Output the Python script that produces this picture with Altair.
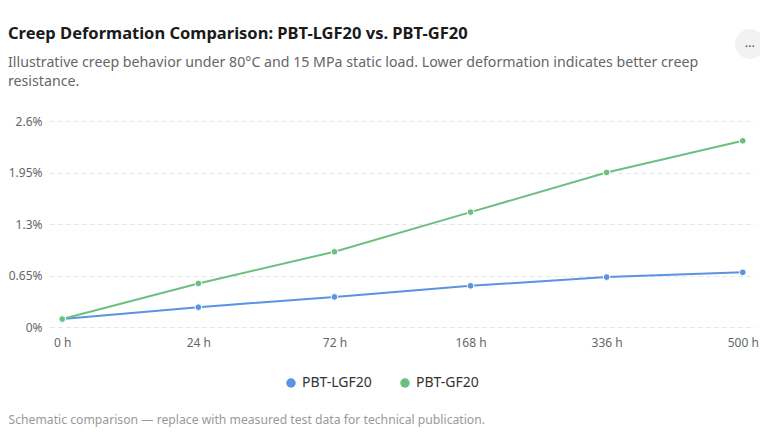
import altair as alt
import pandas as pd

# Data
hours = ["0 h", "24 h", "72 h", "168 h", "336 h", "500 h"]
lgf20 = [0.10, 0.25, 0.38, 0.52, 0.63, 0.69]
gf20 = [0.10, 0.55, 0.95, 1.45, 1.95, 2.35]
series = ["PBT-LGF20", "PBT-GF20"]
colours = ["#5b93e0", "#6dbf80"]
y_ticks = [0, 0.65, 1.3, 1.95, 2.6]

rows = []
for h, a, b in zip(hours, lgf20, gf20):
    rows.append({"time": h, "material": series[0], "deformation": a})
    rows.append({"time": h, "material": series[1], "deformation": b})
df = pd.DataFrame(rows)

font = "Noto Sans"

base = alt.Chart(df).encode(
    x=alt.X("time:O", sort=hours,
            scale=alt.Scale(type="point", padding=0.09),
            axis=alt.Axis(labelAngle=0, domain=False, ticks=False, grid=False,
                          labelColor="#666666", labelFontSize=12, labelPadding=10,
                          title="Schematic comparison \u2014 replace with measured test data for technical publication.",
                          titleX=-42, titleY=92, titleAlign="left", titleBaseline="middle",
                          titleFontSize=12.2, titleFontWeight="normal", titleColor="#999999")),
    y=alt.Y("deformation:Q",
            scale=alt.Scale(domain=[0, 2.6], nice=False),
            axis=alt.Axis(values=y_ticks, format="~r", labelExpr="datum.value + '%'",
                          domain=False, ticks=False, title=None,
                          gridDash=[4, 4], gridColor="#e3e3e3",
                          labelColor="#666666", labelFontSize=12, labelPadding=8)),
    color=alt.Color("material:N", sort=series,
                    scale=alt.Scale(domain=series, range=colours),
                    legend=alt.Legend(title=None, orient="none", direction="horizontal",
                                      legendX=234, legendY=255, symbolType="circle",
                                      symbolSize=90, labelFontSize=14, labelColor="#333333",
                                      columnPadding=26, symbolStrokeWidth=0)),
)

lines = base.mark_line(strokeWidth=2)
points = base.mark_point(filled=True, size=45, opacity=1, stroke="white", strokeWidth=1)

# the little "..." menu button in the top right corner
menu_dot = alt.Chart(pd.DataFrame({"t": ["\u2026"]})).mark_circle(
    size=900, color="#f2f2f2", opacity=1).encode(x=alt.value(700), y=alt.value(-77))
menu_txt = alt.Chart(pd.DataFrame({"t": ["\u2026"]})).mark_text(
    fontSize=13, color="#555555", font=font).encode(
    x=alt.value(700), y=alt.value(-78), text="t:N")

chart = alt.layer(lines, points, menu_dot, menu_txt).properties(
    width=705,
    height=206,
    autosize=alt.AutoSizeParams(type="none"),
    padding={"left": 42, "top": 113, "right": 5, "bottom": 100},
    title=alt.TitleParams(
        text="Creep Deformation Comparison: PBT-LGF20 vs. PBT-GF20",
        subtitle=["Illustrative creep behavior under 80\u00b0C and 15 MPa static load. Lower deformation indicates better creep",
                  "resistance."],
        anchor="start", frame="group", dx=-42, offset=-60,
        fontSize=16.5, fontWeight="bold", color="#1a1a1a", font=font,
        subtitleFontSize=14.2, subtitleColor="#666666", subtitleFont=font,
        subtitleLineHeight=19, subtitlePadding=13),
).configure_view(stroke=None).configure_axis(labelFont=font, titleFont=font).configure_legend(labelFont=font)

chart.save("out.html", embed_options={"renderer": "svg", "actions": False})
